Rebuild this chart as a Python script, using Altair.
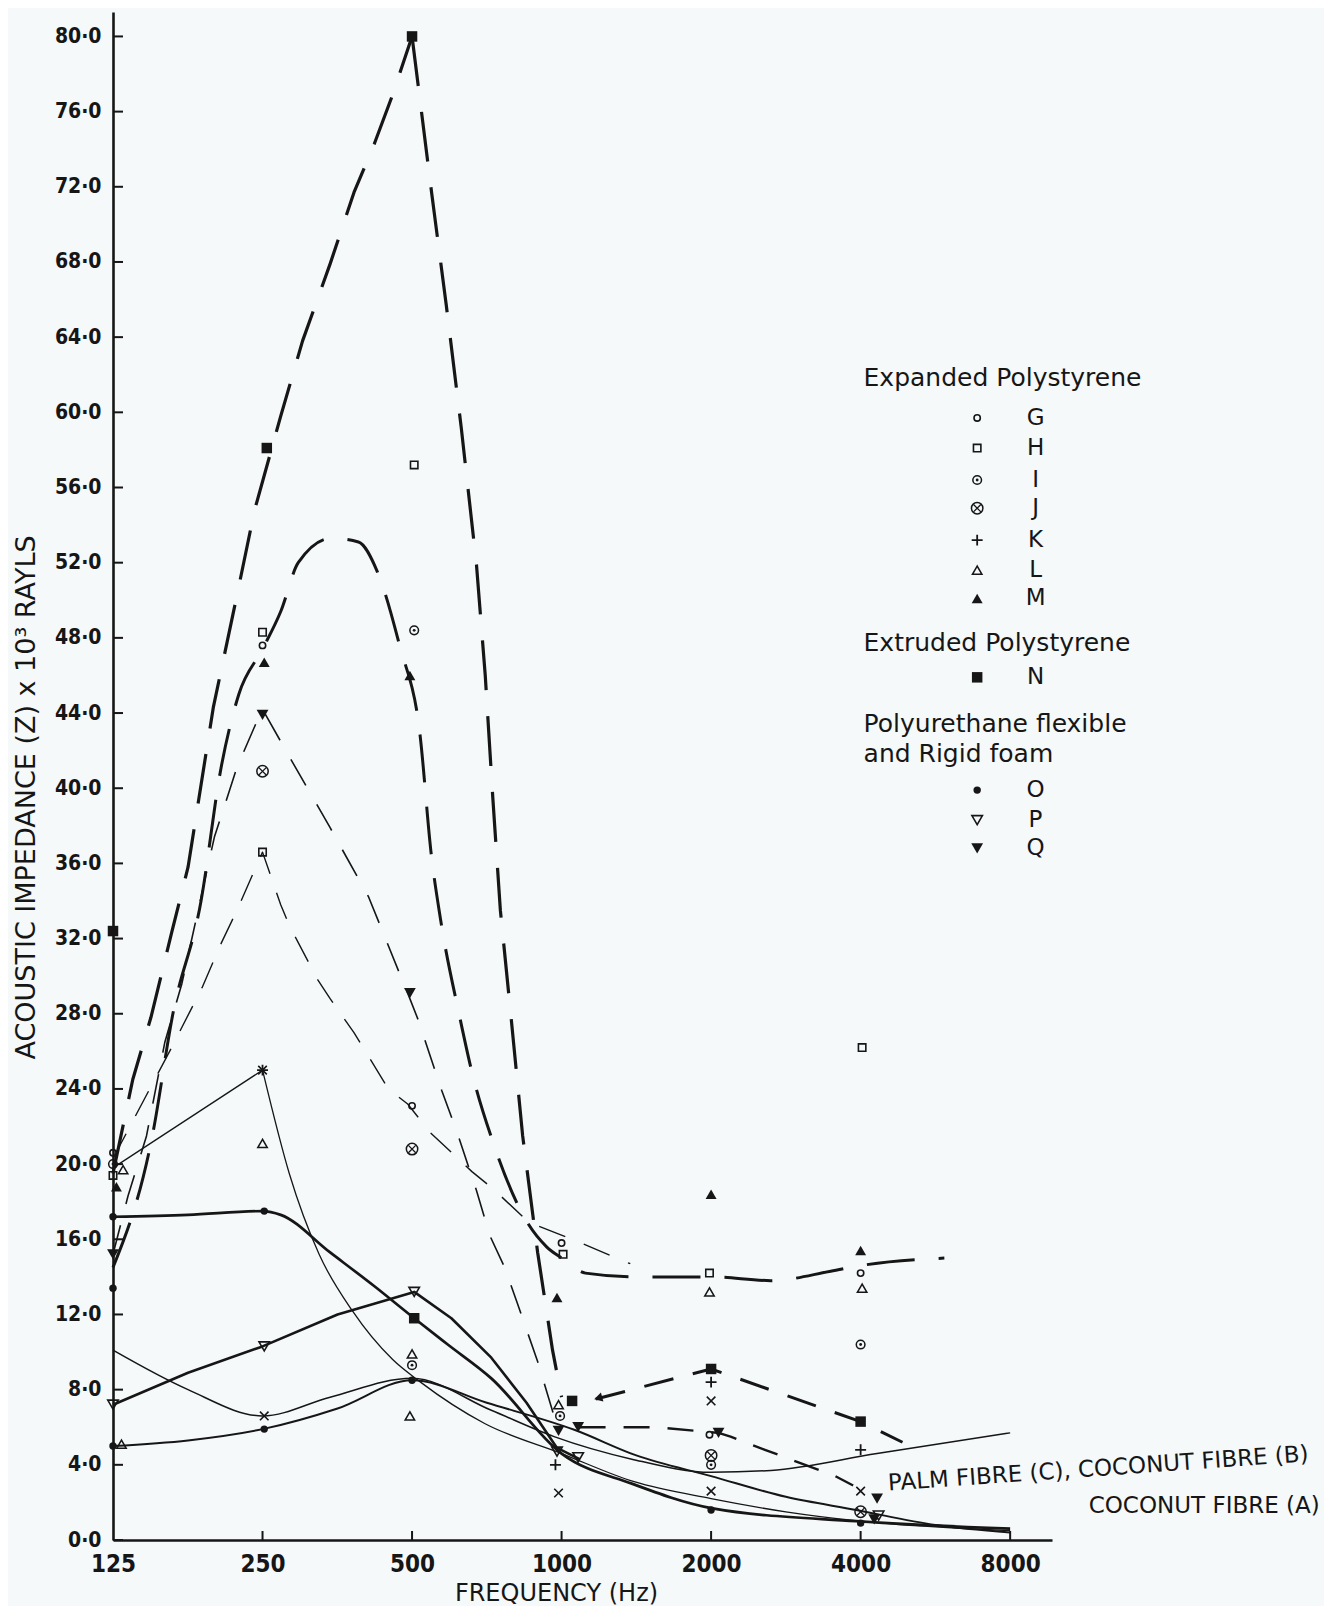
import altair as alt
import pandas as pd

INK = "#161616"
BG = "#f5f9fa"
FONT = "DejaVu Sans"
FONT_C = "DejaVu Sans Condensed, Liberation Sans Narrow, DejaVu Sans"

# ---------------- axes ----------------
FREQ_TICKS = [125, 250, 500, 1000, 2000, 4000, 8000]
Y_TICKS = [0, 4, 8, 12, 16, 20, 24, 28, 32, 36, 40, 44, 48, 52, 56, 60, 64, 68, 72, 76, 80]

# ---------------- curves (Hz, impedance x 10^3 rayls) ----------------
N_RISE_F = [125, 137, 149, 164, 177, 186, 199, 221, 241, 272, 301, 342, 382, 420, 457, 500]
N_RISE_V = [19.5, 24.5, 27.8, 32.3, 35.8, 39.4, 44.3, 50.0, 54.8, 59.8, 63.8, 67.9, 71.7, 74.3, 76.9, 80.0]
N_FALL_F = [500, 548, 586, 628, 674, 702, 727, 753, 790, 835, 895, 959, 1000]
N_FALL_V = [80.0, 71.6, 65.7, 59.2, 51.9, 46.0, 39.5, 33.5, 28.0, 21.5, 15.3, 10.1, 7.6]
N_RIGHT_F = [1173, 2000, 4000, 4857]
N_RIGHT_V = [7.5, 9.1, 6.3, 5.2]

ARC_F = [125, 150, 165, 188, 206, 224, 250, 272, 295, 344, 390, 426, 473, 518, 547, 570,
         624, 660, 727, 853, 933, 1000, 1117, 1414, 2000, 2639, 3482, 4000, 5897]
ARC_V = [14.5, 21.5, 28.0, 34.0, 41.0, 45.0, 47.4, 49.4, 52.0, 53.3, 53.1, 51.5, 47.5, 43.0, 36.4, 33.1,
         27.8, 24.9, 21.2, 16.9, 15.6, 15.0, 14.2, 14.0, 14.0, 13.8, 14.3, 14.6, 15.0]

Q_F = [125, 134, 146, 159, 172, 200, 222, 243, 250, 287, 342, 409, 476, 490, 514, 574,
       616, 674, 717, 768, 812, 895, 986]
Q_V = [15.2, 18.3, 21.5, 26.5, 29.6, 37.4, 41.1, 43.5, 44.2, 41.4, 37.9, 34.2, 29.9, 29.1, 27.7, 23.9,
       21.7, 18.6, 16.2, 14.5, 12.7, 9.5, 5.8]
Q_RIGHT_F = [1087, 1548, 2070, 2189, 2567, 3555, 3864]
Q_RIGHT_V = [6.0, 6.0, 5.7, 5.5, 4.8, 3.4, 2.9]

H_F = [125, 164, 189, 206, 222, 250, 272, 283, 323, 342, 382, 448, 490, 543, 660, 727, 859, 1028, 1375]
H_V = [20.3, 26.2, 29.4, 31.7, 33.5, 36.6, 33.8, 32.7, 29.8, 28.8, 27.0, 24.0, 23.2, 21.7, 19.6, 18.7, 16.9, 16.1, 14.7]

K_UP_F = [125, 250]
K_UP_V = [19.8, 25.0]
K_DN_F = [250, 283, 325, 379, 457, 520, 700, 1000, 1400, 2000, 2828, 4000, 8000]
K_DN_V = [25.0, 19.5, 15.2, 12.2, 9.6, 8.4, 6.2, 4.6, 3.1, 2.2, 1.5, 1.0, 0.5]

U_F = [125, 177, 250, 342, 500, 722, 966, 1385, 2000, 2639, 4317, 8000]
U_V = [10.1, 8.0, 6.6, 7.6, 8.6, 6.9, 5.5, 4.3, 3.6, 3.7, 4.6, 5.7]

OL_F = [125, 177, 250, 354, 500, 707, 1064, 1414, 2000, 2828, 3918, 5657, 8000]
OL_V = [5.0, 5.3, 5.9, 7.0, 8.5, 7.3, 5.85, 4.5, 3.4, 2.3, 1.6, 0.8, 0.4]

OT_F = [125, 177, 250, 272, 342, 420, 505, 590, 722, 1000, 1385, 2000, 3918, 8000]
OT_V = [17.2, 17.3, 17.5, 17.3, 15.3, 13.5, 11.8, 10.4, 8.6, 4.6, 3.0, 1.7, 1.0, 0.6]

P_F = [125, 177, 250, 354, 505, 600, 722, 850, 979, 1087]
P_V = [7.2, 8.9, 10.3, 12.0, 13.2, 11.8, 9.7, 7.3, 4.9, 4.3]

# ---------------- plotted symbols ----------------
PT_SYM = ["N", "G", "I", "H", "L", "M", "O", "Q", "O", "P", "L", "O",
          "N", "H", "G", "M", "Q", "J", "H", "K", "X", "L", "O", "P", "X", "O",
          "N", "H", "I", "M", "Q", "G", "J", "P", "N", "L", "I", "O", "L",
          "G", "H", "M", "L", "N", "I", "Q", "Q", "P", "P", "K", "X",
          "M", "H", "L", "N", "K", "X", "G", "Q", "J", "I", "X", "O",
          "H", "M", "G", "L", "I", "N", "K", "X", "Q", "J", "O", "P", "Q"]
PT_F = [125, 125, 125, 125, 131, 127, 125, 125, 125, 125, 130, 125,
        255, 250, 250, 252, 250, 250, 250, 250, 250, 250, 252, 252, 252, 252,
        500, 505, 505, 495, 495, 500, 500, 505, 505, 500, 500, 500, 495,
        1000, 1007, 979, 986, 1050, 993, 986, 1080, 979, 1080, 972, 986,
        2000, 1985, 1985, 2000, 2000, 2000, 1985, 2070, 2000, 2000, 2000, 2000,
        4028, 4000, 4000, 4028, 4000, 4000, 4000, 4000, 4317, 4000, 4000, 4348, 4260]
PT_V = [32.4, 20.6, 20.0, 19.4, 19.7, 18.8, 17.2, 15.2, 13.4, 7.2, 5.1, 5.0,
        58.1, 48.3, 47.6, 46.7, 43.9, 40.9, 36.6, 25.0, 25.0, 21.1, 17.5, 10.3, 6.6, 5.9,
        80.0, 57.2, 48.4, 46.0, 29.1, 23.1, 20.8, 13.2, 11.8, 9.9, 9.3, 8.5, 6.6,
        15.8, 15.2, 12.9, 7.2, 7.4, 6.6, 5.8, 6.0, 4.7, 4.4, 4.0, 2.5,
        18.4, 14.2, 13.2, 9.1, 8.4, 7.4, 5.6, 5.7, 4.5, 4.0, 2.6, 1.6,
        26.2, 15.4, 14.2, 13.4, 10.4, 6.3, 4.8, 2.6, 2.2, 1.5, 0.9, 1.3, 1.1]

# ---------------- key (legend) ----------------
KEY_HEAD = ["Expanded Polystyrene", "Extruded Polystyrene", "Polyurethane flexible", "and Rigid foam"]
KEY_HEAD_V = [61.8, 47.7, 43.4, 41.8]
KEY_LETTERS = ["G", "H", "I", "J", "K", "L", "M", "N", "O", "P", "Q"]
KEY_V = [59.7, 58.1, 56.4, 54.9, 53.2, 51.6, 50.1, 45.9, 39.9, 38.3, 36.8]
KEY_HEAD_F = 4055
KEY_SYM_F = 6866
KEY_LET_F = 9000

NOTE_TEXT = ["PALM FIBRE (C), COCONUT FIBRE (B)", "COCONUT FIBRE (A)"]
NOTE_F = [4544, 33600]
NOTE_V = [3.0, 1.8]

W, H = 939, 1528

xs = alt.Scale(type="log", base=2, domain=[125, 9713], nice=False)
ys = alt.Scale(domain=[0, 81.3], nice=False, zero=False)

x_axis = alt.Axis(values=FREQ_TICKS, format="d", ticks=False, grid=False, domainColor=INK,
                  domainWidth=2.6, labelFont=FONT_C, labelFontSize=24, labelFontWeight="bold",
                  labelColor=INK, labelPadding=12, labelFlush=False, labelOverlap=False,
                  title="FREQUENCY (Hz)", titleFont=FONT, titleFontSize=24, titleFontWeight="normal",
                  titleColor=INK, titleX=443, titleY=53, titleBaseline="middle",
                  titleAlign="center")
y_axis = alt.Axis(values=Y_TICKS, labelExpr="replace(format(datum.value, '.1f'), '.', '·')",
                  ticks=False, grid=False, domainColor=INK, domainWidth=2.6, labelFont=FONT_C,
                  labelFontSize=21, labelFontWeight="bold", labelColor=INK, labelPadding=12,
                  labelOverlap=False,
                  title="ACOUSTIC IMPEDANCE (Z) x 10³ RAYLS", titleFont=FONT, titleFontSize=27,
                  titleFontWeight="normal", titleColor=INK, titleAngle=270, titleX=-87, titleY=785,
                  titleAlign="center", titleBaseline="middle")

X = alt.X("f:Q", scale=xs, axis=x_axis)
Y = alt.Y("v:Q", scale=ys, axis=y_axis)


def line(fs, vs, width, dash=None, interp="linear"):
    kw = dict(color=INK, strokeWidth=width, interpolate=interp, strokeCap="butt", strokeJoin="round")
    if dash:
        kw["strokeDash"] = dash
    return alt.Chart(pd.DataFrame({"f": fs, "v": vs})).mark_line(**kw).encode(x=X, y=Y)


layers = []
# inward ticks
layers.append(alt.Chart(pd.DataFrame({"v": Y_TICKS})).mark_rule(color=INK, strokeWidth=2)
              .encode(y=Y, x=alt.value(0), x2=alt.value(10)))
layers.append(alt.Chart(pd.DataFrame({"f": FREQ_TICKS[1:]})).mark_rule(color=INK, strokeWidth=2)
              .encode(x=X, y=alt.value(H), y2=alt.value(H - 9)))

# curves
layers += [
    line(N_RISE_F, N_RISE_V, 3.2, [50, 26]),
    line(N_FALL_F, N_FALL_V, 3.2, [50, 26]),
    line(N_RIGHT_F, N_RIGHT_V, 3.0, [30, 20]),
    line(ARC_F, ARC_V, 3.0, [48, 24], "monotone"),
    line(Q_F, Q_V, 1.6, [30, 22]),
    line(Q_RIGHT_F, Q_RIGHT_V, 2.4, [26, 18]),
    line(H_F, H_V, 1.4, [28, 20]),
    line(K_UP_F, K_UP_V, 1.3),
    line(K_DN_F, K_DN_V, 1.3, None, "monotone"),
    line(U_F, U_V, 1.5, None, "monotone"),
    line(OL_F, OL_V, 2.0, None, "monotone"),
    line(OT_F, OT_V, 2.7, None, "monotone"),
    line(P_F, P_V, 2.6),
]

# arrow head on the N segment
layers.append(alt.Chart(pd.DataFrame({"f": [1185], "v": [7.55]}))
              .mark_point(shape="triangle-left", filled=True, size=90, angle=345, color=INK, opacity=1)
              .encode(x=X, y=Y))

# symbols (data + key)
pts = pd.DataFrame({"s": PT_SYM, "f": PT_F, "v": PT_V})
key = pd.DataFrame({"s": KEY_LETTERS, "f": [KEY_SYM_F] * len(KEY_LETTERS), "v": KEY_V})
allpts = pd.concat([pts, key], ignore_index=True)

PLUS = "M-1,0L1,0M0,-1L0,1"
XMARK = "M-0.7,-0.7L0.7,0.7M-0.7,0.7L0.7,-0.7"

STYLES = {
    "G": [dict(shape="circle", filled=False, size=40, strokeWidth=1.6)],
    "H": [dict(shape="square", filled=False, size=55, strokeWidth=1.6)],
    "I": [dict(shape="circle", filled=False, size=75, strokeWidth=1.5),
          dict(shape="circle", filled=True, size=8, strokeWidth=0)],
    "J": [dict(shape="circle", filled=False, size=130, strokeWidth=1.5),
          dict(shape=XMARK, filled=False, size=110, strokeWidth=1.3)],
    "K": [dict(shape=PLUS, filled=False, size=120, strokeWidth=1.8)],
    "L": [dict(shape="triangle-up", filled=False, size=90, strokeWidth=1.5)],
    "M": [dict(shape="triangle-up", filled=True, size=120, strokeWidth=0)],
    "N": [dict(shape="square", filled=True, size=110, strokeWidth=0)],
    "O": [dict(shape="circle", filled=True, size=55, strokeWidth=0)],
    "P": [dict(shape="triangle-down", filled=False, size=110, strokeWidth=1.6)],
    "Q": [dict(shape="triangle-down", filled=True, size=140, strokeWidth=0)],
    "X": [dict(shape=XMARK, filled=False, size=150, strokeWidth=1.6)],
}
for s, sty in STYLES.items():
    sub = allpts[allpts.s == s]
    if sub.empty:
        continue
    for st in sty:
        layers.append(alt.Chart(sub).mark_point(color=INK, opacity=1, **st).encode(x=X, y=Y))

# key text
layers.append(alt.Chart(pd.DataFrame({"t": KEY_HEAD, "f": [KEY_HEAD_F] * 4, "v": KEY_HEAD_V}))
              .mark_text(align="left", baseline="middle", font=FONT, fontSize=25, color=INK)
              .encode(x=X, y=Y, text="t:N"))
layers.append(alt.Chart(pd.DataFrame({"t": KEY_LETTERS, "f": [KEY_LET_F] * len(KEY_LETTERS), "v": KEY_V}))
              .mark_text(align="center", baseline="middle", font=FONT, fontSize=23, color=INK)
              .encode(x=X, y=Y, text="t:N"))

# fibre notes
layers.append(alt.Chart(pd.DataFrame({"t": [NOTE_TEXT[0]], "f": [NOTE_F[0]], "v": [NOTE_V[0]]}))
              .mark_text(align="left", baseline="middle", font=FONT, fontSize=23, color=INK, angle=356)
              .encode(x=X, y=Y, text="t:N"))
layers.append(alt.Chart(pd.DataFrame({"t": [NOTE_TEXT[1]], "f": [NOTE_F[1]], "v": [NOTE_V[1]]}))
              .mark_text(align="right", baseline="middle", font=FONT, fontSize=23, color=INK)
              .encode(x=X, y=Y, text="t:N"))

chart = (alt.layer(*layers)
         .properties(width=W, height=H, background=BG,
                     padding={"left": 105, "top": 4, "right": 272, "bottom": 66},
                     autosize=alt.AutoSizeParams(type="none"))
         .configure_view(stroke=None))

chart.save("out.html", embed_options={"renderer": "svg", "actions": False})
